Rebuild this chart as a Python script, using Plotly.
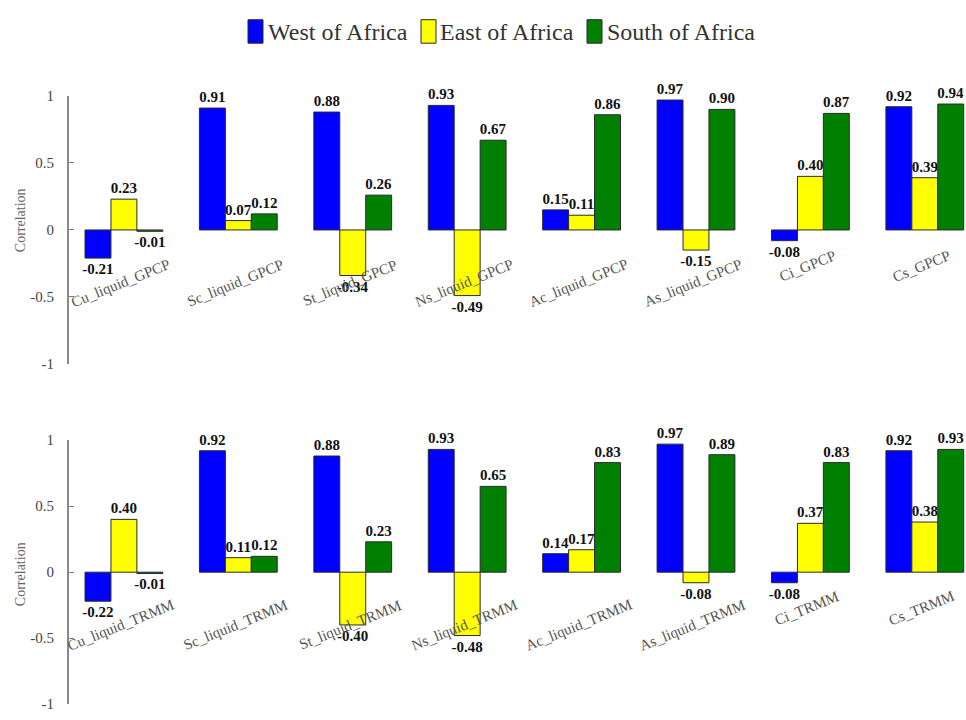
import plotly.graph_objects as go

# Correlation of cloud-type precipitation with GPCP / TRMM over three African regions
regions = ["West of Africa", "East of Africa", "South of Africa"]
colors = ["#0000FF", "#FFFF00", "#008000"]

gpcp_labels = ["Cu_liquid_GPCP", "Sc_liquid_GPCP", "St_liquid_GPCP", "Ns_liquid_GPCP",
               "Ac_liquid_GPCP", "As_liquid_GPCP", "Ci_GPCP", "Cs_GPCP"]
gpcp_west = [-0.21, 0.91, 0.88, 0.93, 0.15, 0.97, -0.08, 0.92]
gpcp_east = [0.23, 0.07, -0.34, -0.49, 0.11, -0.15, 0.40, 0.39]
gpcp_south = [-0.01, 0.12, 0.26, 0.67, 0.86, 0.90, 0.87, 0.94]

trmm_labels = ["Cu_liquid_TRMM", "Sc_liquid_TRMM", "St_liquid_TRMM", "Ns_liquid_TRMM",
               "Ac_liquid_TRMM", "As_liquid_TRMM", "Ci_TRMM", "Cs_TRMM"]
trmm_west = [-0.22, 0.92, 0.88, 0.93, 0.14, 0.97, -0.08, 0.92]
trmm_east = [0.40, 0.11, -0.40, -0.48, 0.17, -0.08, 0.37, 0.38]
trmm_south = [-0.01, 0.12, 0.23, 0.65, 0.83, 0.89, 0.83, 0.93]

y_ticks = [-1, -0.5, 0, 0.5, 1]
y_ticktext = ["-1", "-0.5", "0", "0.5", "1"]

W, H = 966, 720
SERIF = "Liberation Serif, Times New Roman, serif"

fig = go.Figure()

panels = [
    ("x", "y", gpcp_labels, [gpcp_west, gpcp_east, gpcp_south]),
    ("x2", "y2", trmm_labels, [trmm_west, trmm_east, trmm_south]),
]

for xa, ya, labels, series in panels:
    idx = list(range(len(labels)))
    for name, col, vals in zip(regions, colors, series):
        fig.add_trace(go.Bar(
            x=idx, y=vals, name=name, xaxis=xa, yaxis=ya,
            marker=dict(color=col, line=dict(color="#2a2a2a", width=1)),
            texttemplate="%{y:.2f}", textposition="outside",
            outsidetextfont=dict(family=SERIF, size=15, color="#111111",
                                 weight="bold"),
            constraintext="none", cliponaxis=False, showlegend=False,
            hoverinfo="skip",
        ))
    # rotated category labels hanging below the zero level
    for i, lab in enumerate(labels):
        fig.add_annotation(
            x=i, y=0, xref=xa, yref=ya, text=lab, showarrow=False,
            textangle=-22, xshift=-3, yshift=-(36 + 2.4 * (len(lab) - 7)),
            font=dict(family=SERIF, size=15, color="#555555"),
        )

def px_x(p):
    return p / W

def px_y(p):
    return 1 - p / H

xrange_ = [-0.48, 7.36]
xdom = [px_x(69), 1.0]
common_x = dict(range=xrange_, showticklabels=False, showgrid=False,
                zeroline=False, showline=False, ticks="")
common_y = dict(range=[-1, 1], tickvals=y_ticks, ticktext=y_ticktext,
                showgrid=False, zeroline=False, showline=True,
                linecolor="#8a8a8a", linewidth=2, ticks="inside", ticklen=5,
                tickcolor="#8a7a60", tickwidth=1, ticklabelstandoff=10,
                tickfont=dict(family=SERIF, size=15, color="#444444"))

fig.update_layout(
    width=W, height=H,
    margin=dict(l=0, r=0, t=0, b=0),
    paper_bgcolor="white", plot_bgcolor="white",
    barmode="group", bargap=0.32, bargroupgap=0,
    xaxis=dict(domain=xdom, anchor="y", **common_x),
    xaxis2=dict(domain=xdom, anchor="y2", **common_x),
    yaxis=dict(domain=[px_y(364), px_y(90)], anchor="x", **common_y),
    yaxis2=dict(domain=[px_y(712), px_y(442)], anchor="x2", **common_y),
)

# y-axis titles
for yc in (217, 579):
    fig.add_annotation(
        x=px_x(20), y=px_y(yc), xref="paper", yref="paper", text="Correlation",
        textangle=-90, showarrow=False, xanchor="center", yanchor="middle",
        font=dict(family=SERIF, size=14, color="#666666"),
    )

# legend row across the top
legend_pos = [(248, 266), (421, 438), (587, 605)]
for (sx, tx), name, col in zip(legend_pos, regions, colors):
    fig.add_shape(type="rect", xref="paper", yref="paper",
                  x0=px_x(sx), x1=px_x(sx + 15), y0=px_y(36), y1=px_y(12),
                  fillcolor=col, line=dict(color="#2a2a2a", width=1))
    fig.add_annotation(
        x=px_x(tx), y=px_y(25), xref="paper", yref="paper", text=name,
        xanchor="left", yanchor="middle", showarrow=False,
        font=dict(family=SERIF, size=24, color="#333333"),
    )

fig.write_html("out.html")
